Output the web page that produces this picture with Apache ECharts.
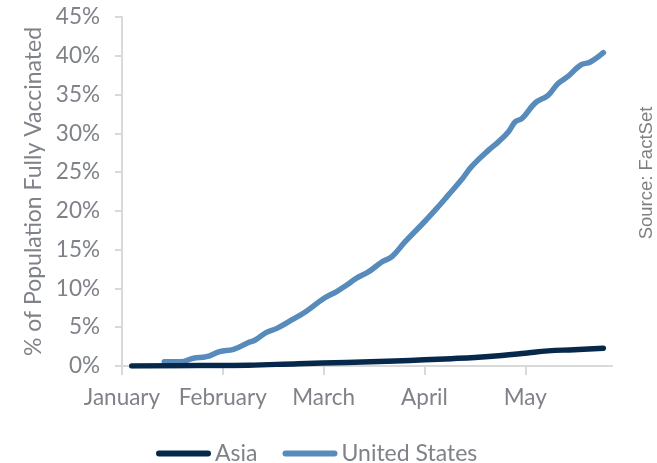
<!DOCTYPE html>
<html>
<head>
<meta charset="utf-8">
<script src="https://cdn.jsdelivr.net/npm/echarts@6/dist/echarts.min.js"></script>
<style>
  html, body { margin: 0; padding: 0; background: #fff; }
  #chart { width: 657px; height: 463px; }
</style>
</head>
<body>
<div id="chart"></div>
<script>
// month tick labels
const months = ['January', 'February', 'March', 'April', 'May'];

// United States - % fully vaccinated
const usDates = ['2021-01-14', '2021-01-19', '2021-01-23', '2021-01-27', '2021-01-31',
  '2021-02-04', '2021-02-08', '2021-02-10', '2021-02-13', '2021-02-16', '2021-02-20', '2021-02-24',
  '2021-03-01', '2021-03-05', '2021-03-08', '2021-03-11', '2021-03-15', '2021-03-19', '2021-03-22', '2021-03-26',
  '2021-04-01', '2021-04-05', '2021-04-08', '2021-04-12', '2021-04-15', '2021-04-20', '2021-04-23', '2021-04-26', '2021-04-28', '2021-04-30',
  '2021-05-04', '2021-05-08', '2021-05-11', '2021-05-14', '2021-05-18', '2021-05-21', '2021-05-25'];
const usValues = [0.55, 0.55, 1.0, 1.2, 1.85,
  2.15, 3.0, 3.35, 4.3, 4.85, 5.9, 7.0,
  8.7, 9.6, 10.4, 11.3, 12.2, 13.45, 14.1, 16.0,
  18.6, 20.5, 22.0, 24.0, 25.7, 27.8, 28.9, 30.2, 31.5, 31.9,
  33.9, 34.9, 36.4, 37.3, 38.8, 39.2, 40.4];

// Asia - % fully vaccinated
const asiaDates = ['2021-01-04', '2021-01-25', '2021-02-08', '2021-02-22', '2021-03-08', '2021-03-23',
  '2021-04-01', '2021-04-09', '2021-04-16', '2021-04-24', '2021-05-01', '2021-05-08', '2021-05-16', '2021-05-25'];
const asiaValues = [0.0, 0.05, 0.1, 0.3, 0.45, 0.65, 0.8, 0.95, 1.1, 1.35, 1.65, 1.95, 2.1, 2.3];

// position in "months since Jan 1" so each month gets the same width, like the original
function monthPos(d) {
  const [y, m, day] = d.split('-').map(Number);
  const dim = new Date(y, m, 0).getDate();
  return (m - 1) + (day - 1) / dim;
}
const toPairs = (dates, vals) => dates.map((d, i) => [monthPos(d), vals[i]]);

const textGray = '#7f8288';
const axisGray = '#d9d9d9';
const font = 'Lato';
const legendIcon = 'path://M3,0 L52,0 A3,3 0 0 1 52,6 L3,6 A3,3 0 0 1 3,0 Z';

const chart = echarts.init(document.getElementById('chart'));
chart.setOption({
  animation: false,
  grid: { left: 122, right: 45, top: 17, bottom: 97 },
  xAxis: {
    type: 'value',
    min: 0,
    max: 4.86,
    interval: 1,
    splitLine: { show: false },
    axisLine: { show: true, lineStyle: { color: axisGray, width: 2 } },
    axisTick: { show: true, length: 9, lineStyle: { color: axisGray, width: 2 } },
    axisLabel: {
      color: textGray, fontFamily: font, fontSize: 22.5, margin: 20,
      showMaxLabel: false,
      formatter: v => months[Math.round(v)] || ''
    }
  },
  yAxis: {
    type: 'value',
    min: 0,
    max: 45,
    interval: 5,
    name: '% of Population Fully Vaccinated',
    nameLocation: 'middle',
    nameGap: 76,
    nameTextStyle: { color: textGray, fontFamily: font, fontSize: 23 },
    splitLine: { show: false },
    axisLine: { show: true, lineStyle: { color: axisGray, width: 2 } },
    axisTick: { show: true, length: 7, lineStyle: { color: axisGray, width: 2 } },
    axisLabel: { color: textGray, fontFamily: font, fontSize: 22.5, margin: 22, formatter: '{value}%' }
  },
  legend: {
    top: 437,
    left: 151,
    itemWidth: 55,
    itemHeight: 6,
    itemGap: 25,
    textStyle: { color: textGray, fontFamily: font, fontSize: 23, padding: [0, 0, 0, -1] },
    data: [
      { name: 'Asia', icon: legendIcon, itemStyle: { color: '#06294b' } },
      { name: 'United States', icon: legendIcon, itemStyle: { color: '#578bbb' } }
    ]
  },
  graphic: [{
    type: 'text',
    x: 647,
    y: 173,
    rotation: Math.PI / 2,
    style: {
      text: 'Source: FactSet',
      fill: '#7f7f7f',
      font: '18.5px "Liberation Sans", Arial, sans-serif',
      align: 'center',
      verticalAlign: 'middle'
    }
  }],
  series: [
    {
      name: 'Asia',
      type: 'line',
      data: toPairs(asiaDates, asiaValues),
      smooth: 0.4,
      showSymbol: false,
      z: 3,
      lineStyle: { color: '#06294b', width: 5.5, cap: 'round', join: 'round' },
      itemStyle: { color: '#06294b' }
    },
    {
      name: 'United States',
      type: 'line',
      data: toPairs(usDates, usValues),
      smooth: 0.4,
      showSymbol: false,
      z: 2,
      lineStyle: { color: '#578bbb', width: 5.5, cap: 'round', join: 'round' },
      itemStyle: { color: '#578bbb' }
    }
  ]
});
</script>
</body>
</html>
